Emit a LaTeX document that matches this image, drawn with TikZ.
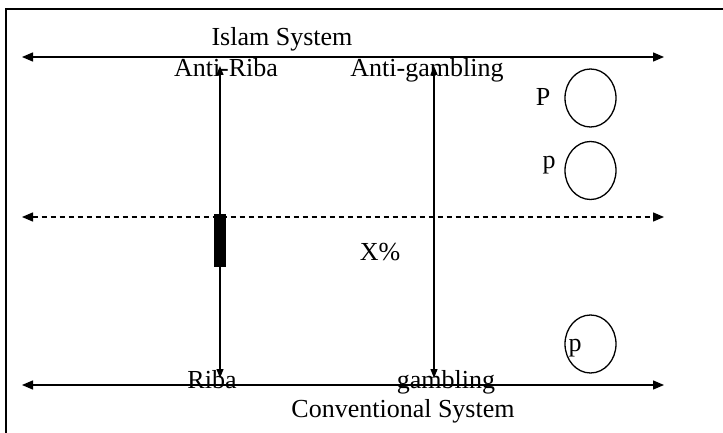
\documentclass[tikz,border=0pt]{standalone}
\usepackage{fontspec}
\setmainfont{Liberation Serif}
\usetikzlibrary{arrows.meta,shapes.geometric}
\begin{document}
\begin{tikzpicture}[x=1pt,y=-1pt,
  lbl/.style={font=\fontsize{26}{30}\selectfont, inner sep=0pt, anchor=base},
  axis/.style={line width=1.3pt, {Triangle[length=11pt,width=9pt]}-{Triangle[length=11pt,width=9pt]}},
  vaxis/.style={line width=1.2pt, {Triangle[length=9pt,width=7pt]}-{Triangle[length=9pt,width=7pt]}},
  ring/.style={draw, line width=1.3pt, ellipse, inner sep=0pt, minimum width=51pt, minimum height=58pt}
]
\useasboundingbox (0,0) rectangle (723,433);
% frame
\coordinate (fbl) at (6,433);
\coordinate (ftl) at (6,9);
\coordinate (ftr) at (723,9);
\draw[line width=2pt] (fbl) -- (ftl) -- (ftr);

% horizontal axes
\coordinate (tl) at (22,57);  \coordinate (tr) at (664,57);
\coordinate (ml) at (22,217); \coordinate (mr) at (664,217);
\coordinate (bl) at (22,385); \coordinate (br) at (664,385);
\draw[axis] (tl) -- (tr);
\draw[axis, dash pattern=on 5pt off 4pt] (ml) -- (mr);
\draw[axis] (bl) -- (br);

% vertical axes
\coordinate (rt) at (220,66); \coordinate (rb) at (220,378);
\coordinate (gt) at (434,66); \coordinate (gb) at (434,378);
\draw[vaxis] (rt) -- (rb);
\draw[vaxis] (gt) -- (gb);

% black bar
\node[draw, fill=black, inner sep=0pt, minimum width=11pt, minimum height=52pt] (bar) at (219.5,240) {};

% labels
\node[lbl] (islam) at (282,46) {Islam System};
\node[lbl] (antiriba) at (226,77) {Anti-Riba};
\node[lbl] (antigamb) at (427,77) {Anti-gambling};
\node[lbl] (xpct) at (380,260) {X\%};
\node[lbl] (riba) at (212,388) {Riba};
\node[lbl] (gamb) at (446,388) {gambling};
\node[lbl] (conv) at (403,417) {Conventional System};

% ellipses
\node[ring] (e1) at (590.5,98) {};
\node[ring] (e2) at (590.5,170.5) {};
\node[ring] (e3) at (590.5,344) {};
\node[lbl] (pP) at (543,106) {P};
\node[lbl] (p2) at (549,168) {p};
\node[lbl] (p3) at (575,351) {p};
\end{tikzpicture}
\end{document}
